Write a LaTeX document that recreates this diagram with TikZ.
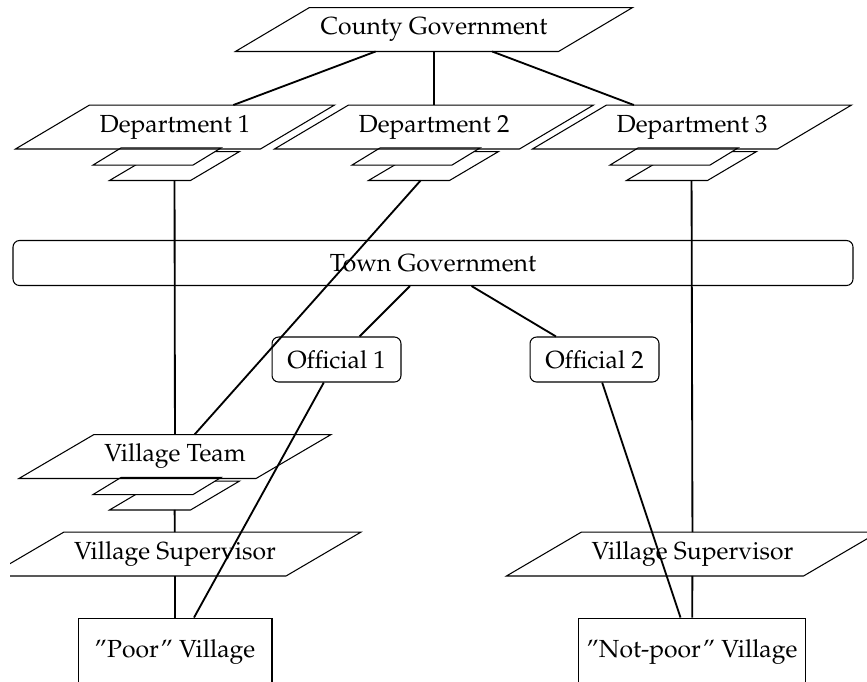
\documentclass[tikz,border=0pt]{standalone}
\usepackage[T1]{fontenc}
\usepackage{mathpazo}
\usepackage{tikz}
\usetikzlibrary{calc}

% parallelogram round a node: node name, half of the slant
\newcommand{\slantbox}[3][]{%
  \draw[frame,#1] ($(#2.south west)+(-#3,0)$) -- ($(#2.south east)+(-#3,0)$)
    -- ($(#2.north east)+(#3,0)$) -- ($(#2.north west)+(#3,0)$) -- cycle;}
% two small sheets under a plane
\newcommand{\paperstack}[3]{%
  \node[plane, minimum width=30.4pt, minimum height=10.6pt] (#1b) at (#2-0.5,#3+39) {};
  \node[plane, minimum width=37.6pt, minimum height=6.1pt] (#1a) at (#2-18,#3+29.5) {};
  \slantbox[fill=white]{#1b}{24.5}
  \slantbox[fill=white]{#1a}{14}}

\begin{document}
\begin{tikzpicture}[x=0.38pt, y=-0.38pt, font=\fontsize{9.4}{11}\selectfont, plane/.style = {inner sep=0pt, minimum height=16.3pt}, frame/.style = {thin}, box/.style = {draw, thin, inner sep=0pt, minimum height=17.1pt, rounded corners=2.5pt}, village/.style = {draw, thin, inner sep=0pt, minimum height=25.8pt}, conn/.style = {line width=0.7pt}]
	\useasboundingbox (0,0) rectangle (867,681);
	\clip (10,0) rectangle (867,681);
	% county level
	\node[plane, minimum width=122.4pt] (cg) at (434,29.5) {County Government};
	\slantbox{cg}{37}
	\foreach \n/\x in {1/175,2/434,3/692}{
		\paperstack{dep\n}{\x}{127}
		\node[plane, minimum width=92.7pt] (dep\n) at (\x,127) {Department \n};
		\slantbox{dep\n}{37}
	}
	% town level
	\node[box, minimum width=319.2pt] (town) at (433,263) {Town Government};
	\node[box, minimum width=49pt] (off1) at (336.5,359.5) {Official 1};
	\node[box, minimum width=49pt] (off2) at (594.5,359.5) {Official 2};
	% village level
	\paperstack{team}{175}{456.5}
	\node[plane, minimum width=89.7pt] (team) at (175,456.5) {Village Team};
	\slantbox{team}{37.5}
	\node[plane, minimum width=112.5pt] (sup1) at (175,554) {Village Supervisor};
	\slantbox{sup1}{37.5}
	\node[plane, minimum width=112.5pt] (sup2) at (692.5,554) {Village Supervisor};
	\slantbox{sup2}{37.5}
	\node[village, minimum width=73.7pt] (poor) at (175,652) {''Poor'' Village};
	\node[village, minimum width=86.6pt] (notpoor) at (692,652) {''Not-poor'' Village};
	% links
	\draw[conn] (cg) -- (dep1);
	\draw[conn] (cg) -- (dep2);
	\draw[conn] (cg) -- (dep3);
	\draw[conn] (dep1b) -- (team);
	\draw[conn] (dep2b) -- (team);
	\draw[conn] (dep3b) -- (sup2);
	\draw[conn] (town) -- (off1);
	\draw[conn] (town) -- (off2);
	\draw[conn] (off1) -- (poor);
	\draw[conn] (off2) -- (notpoor);
	\draw[conn] (teamb) -- (sup1);
	\draw[conn] (sup1) -- (poor);
	\draw[conn] (sup2) -- (notpoor);
\end{tikzpicture}
\end{document}
